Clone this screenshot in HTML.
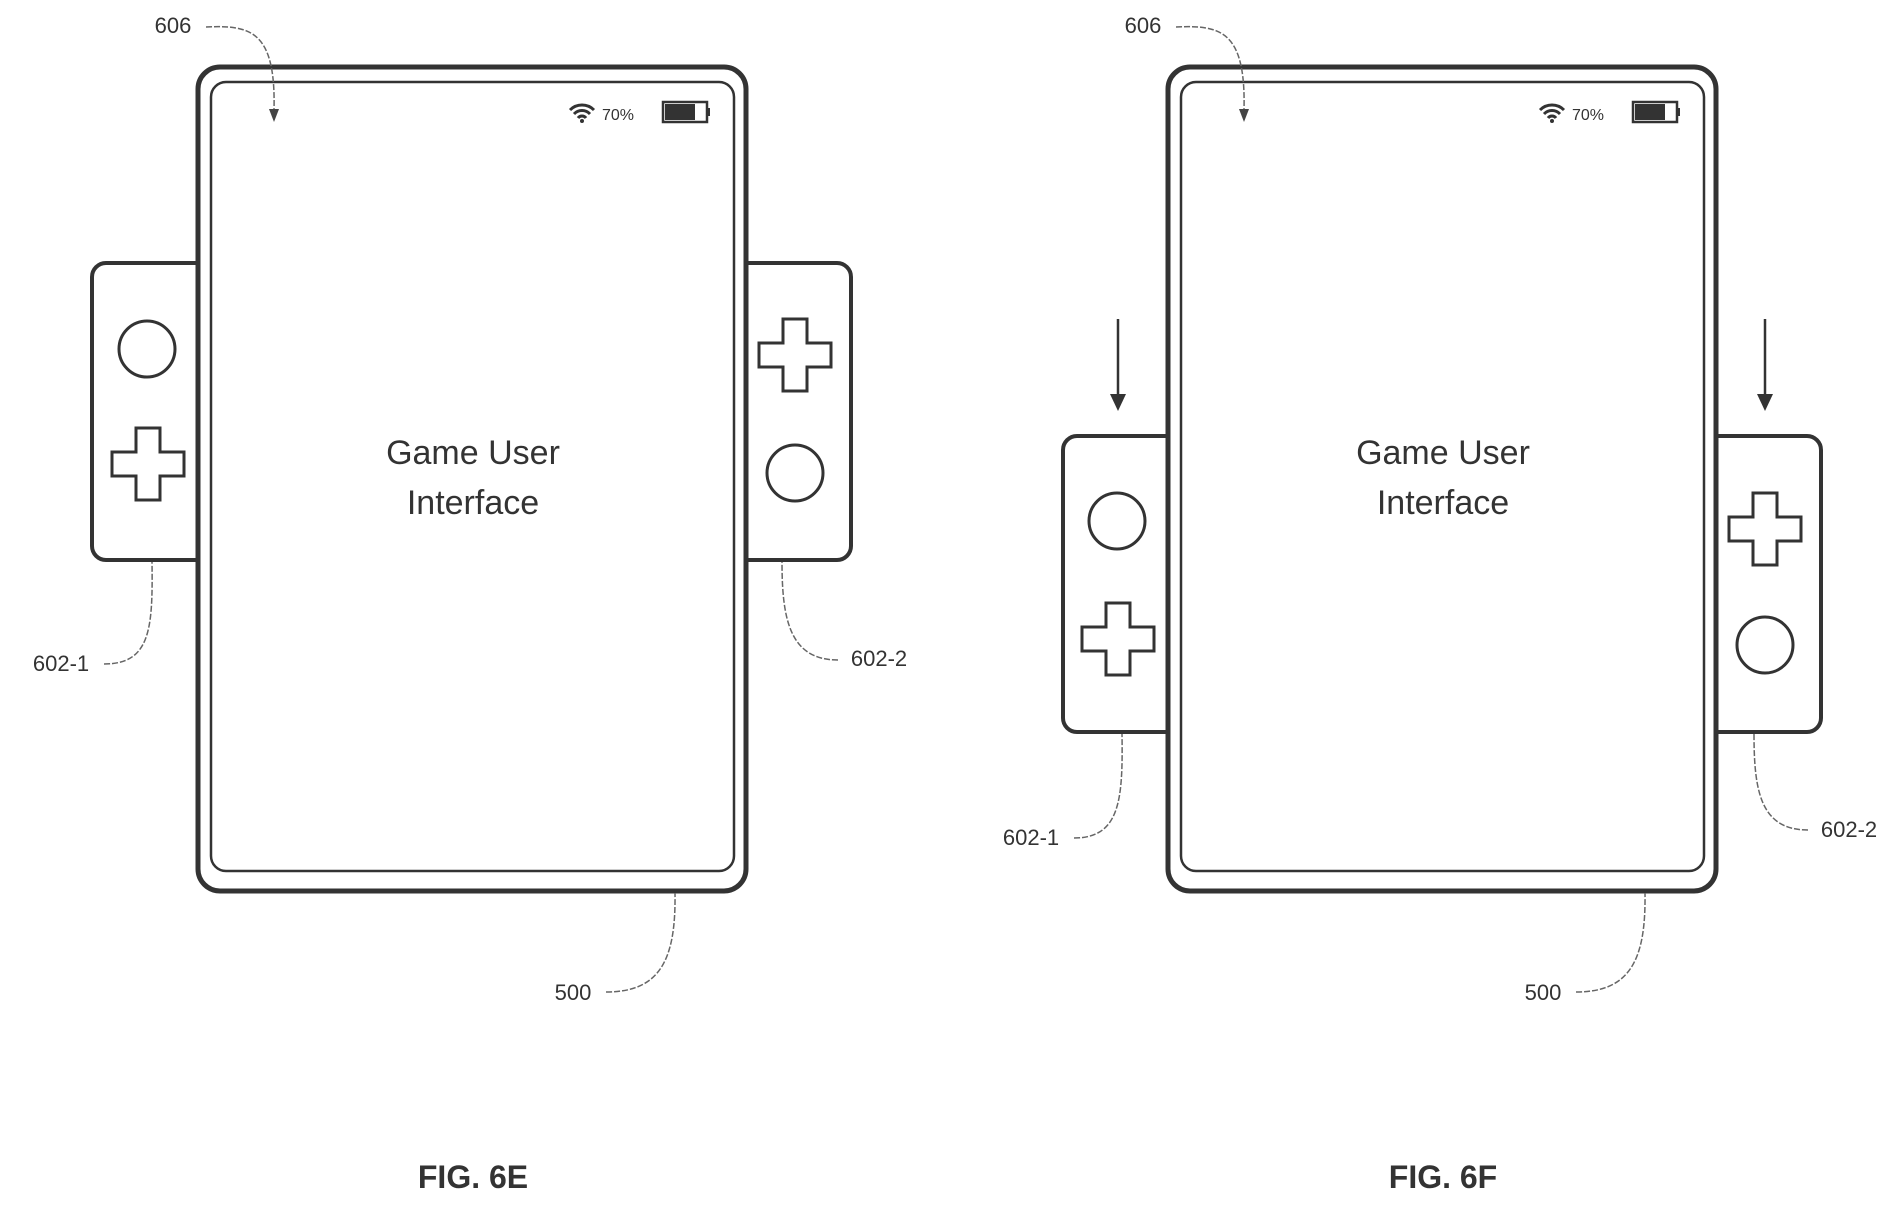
<!DOCTYPE html>
<html><head><style>body{margin:0;background:#fff}svg{display:block}text{font-family:"Liberation Sans",sans-serif;fill:#333}</style></head>
<body>
<svg width="1901" height="1206" viewBox="0 0 1901 1206" xmlns="http://www.w3.org/2000/svg">
<defs>
<g id="cross"><path d="M-12,-36 H12 V-12 H36 V12 H12 V36 H-12 V12 H-36 V-12 H-12 Z" fill="#fff" stroke="#333" stroke-width="3"/></g>
<g id="status">
<path d="M-12,-2 a17,17 0 0 1 24,0 M-8,2 a11,11 0 0 1 16,0 M-4,6 a5,5 0 0 1 8,0" fill="none" stroke="#333" stroke-width="3"/>
<circle cx="0" cy="9" r="2" fill="#333"/>
<text x="36" y="8" font-size="16" text-anchor="middle">70%</text>
<rect x="81" y="-10" width="44" height="20" fill="#fff" stroke="#333" stroke-width="2.5"/>
<rect x="83" y="-8" width="30" height="16" fill="#333"/>
<rect x="125" y="-4" width="3" height="8" fill="#333"/>
</g>
</defs>

<!-- FIG 6E -->
<g>
<rect x="92" y="263" width="118" height="297" rx="14" fill="#fff" stroke="#333" stroke-width="4"/>
<rect x="731" y="263" width="120" height="297" rx="14" fill="#fff" stroke="#333" stroke-width="4"/>
<circle cx="147" cy="349" r="28" fill="#fff" stroke="#333" stroke-width="3"/>
<use href="#cross" x="148" y="464"/>
<use href="#cross" x="795" y="355"/>
<circle cx="795" cy="473" r="28" fill="#fff" stroke="#333" stroke-width="3"/>
<rect x="198" y="67" width="548" height="824" rx="22" fill="#fff" stroke="#333" stroke-width="5"/>
<rect x="211" y="82" width="523" height="789" rx="15" fill="#fff" stroke="#333" stroke-width="2.5"/>
<use href="#status" x="582" y="112"/>
<text x="473" y="464" font-size="34" text-anchor="middle">Game User</text>
<text x="473" y="514" font-size="34" text-anchor="middle">Interface</text>
<text x="173" y="33" font-size="22" text-anchor="middle">606</text>
<path d="M206,27 C250,25 276,30 274,110" fill="none" stroke="#666" stroke-width="1.5" stroke-dasharray="6,2"/>
<path d="M269,109 L279,109 L274,122 z" fill="#444"/>
<text x="61" y="671" font-size="22" text-anchor="middle">602-1</text>
<path d="M104,664 C150,664 153,630 152,562" fill="none" stroke="#666" stroke-width="1.5" stroke-dasharray="6,2"/>
<text x="879" y="666" font-size="22" text-anchor="middle">602-2</text>
<path d="M838,660 C790,660 782,620 782,562" fill="none" stroke="#666" stroke-width="1.5" stroke-dasharray="6,2"/>
<text x="573" y="1000" font-size="22" text-anchor="middle">500</text>
<path d="M606,992 C660,992 676,960 675,893" fill="none" stroke="#666" stroke-width="1.5" stroke-dasharray="6,2"/>
<text x="473" y="1188" font-size="32" font-weight="bold" text-anchor="middle">FIG. 6E</text>
</g>

<!-- FIG 6F -->
<g>
<rect x="1063" y="436" width="118" height="296" rx="14" fill="#fff" stroke="#333" stroke-width="4"/>
<rect x="1702" y="436" width="119" height="296" rx="14" fill="#fff" stroke="#333" stroke-width="4"/>
<circle cx="1117" cy="521" r="28" fill="#fff" stroke="#333" stroke-width="3"/>
<use href="#cross" x="1118" y="639"/>
<use href="#cross" x="1765" y="529"/>
<circle cx="1765" cy="645" r="28" fill="#fff" stroke="#333" stroke-width="3"/>
<rect x="1168" y="67" width="548" height="824" rx="22" fill="#fff" stroke="#333" stroke-width="5"/>
<rect x="1181" y="82" width="523" height="789" rx="15" fill="#fff" stroke="#333" stroke-width="2.5"/>
<use href="#status" x="1552" y="112"/>
<text x="1443" y="464" font-size="34" text-anchor="middle">Game User</text>
<text x="1443" y="514" font-size="34" text-anchor="middle">Interface</text>
<line x1="1118" y1="319" x2="1118" y2="398" stroke="#333" stroke-width="2.5"/>
<path d="M1110,394 L1126,394 L1118,411 z" fill="#333"/>
<line x1="1765" y1="319" x2="1765" y2="398" stroke="#333" stroke-width="2.5"/>
<path d="M1757,394 L1773,394 L1765,411 z" fill="#333"/>
<text x="1143" y="33" font-size="22" text-anchor="middle">606</text>
<path d="M1176,27 C1220,25 1246,30 1244,110" fill="none" stroke="#666" stroke-width="1.5" stroke-dasharray="6,2"/>
<path d="M1239,109 L1249,109 L1244,122 z" fill="#444"/>
<text x="1031" y="845" font-size="22" text-anchor="middle">602-1</text>
<path d="M1074,838 C1120,838 1123,800 1122,734" fill="none" stroke="#666" stroke-width="1.5" stroke-dasharray="6,2"/>
<text x="1849" y="837" font-size="22" text-anchor="middle">602-2</text>
<path d="M1808,830 C1760,830 1754,790 1754,734" fill="none" stroke="#666" stroke-width="1.5" stroke-dasharray="6,2"/>
<text x="1543" y="1000" font-size="22" text-anchor="middle">500</text>
<path d="M1576,992 C1630,992 1646,960 1645,893" fill="none" stroke="#666" stroke-width="1.5" stroke-dasharray="6,2"/>
<text x="1443" y="1188" font-size="32" font-weight="bold" text-anchor="middle">FIG. 6F</text>
</g>
</svg>
</body></html>
